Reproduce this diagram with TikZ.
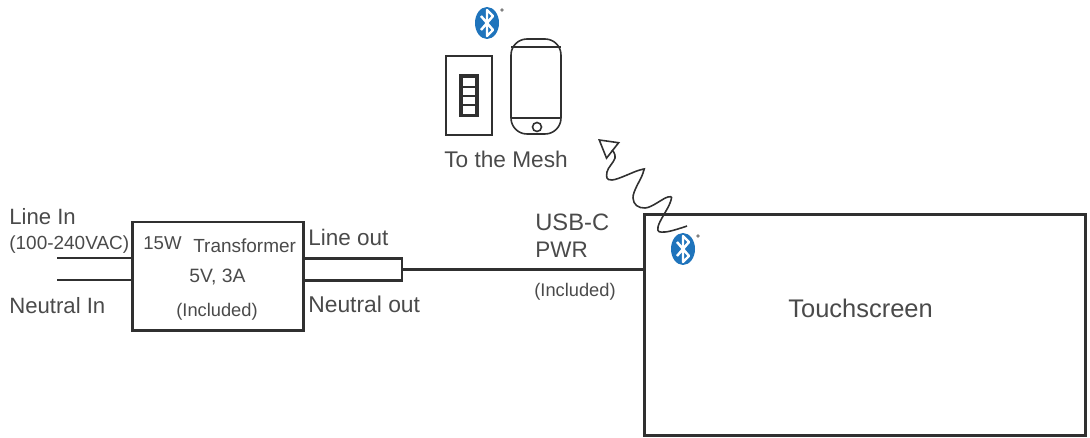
\documentclass[tikz,border=0pt]{standalone}
\usepackage{fontspec}
\setmainfont{Liberation Sans}
\usetikzlibrary{arrows.meta}

\definecolor{btblue}{HTML}{1F74BC}
\definecolor{labgray}{HTML}{4A4A4A}
\definecolor{wiregray}{HTML}{303030}

\tikzset{
  lab/.style={anchor=base west, inner sep=0pt, text=labgray},
  box/.style={draw=wiregray, line width=1.7pt, inner sep=0pt},
  wire/.style={draw=wiregray, line width=1.2pt},
  thin line/.style={draw=wiregray, line width=0.9pt},
  btlogo/.pic={
    \fill [btblue] (0,0) ellipse (12 and 16);
    \draw [white, line width=1.4pt, line join=round]
      (-6,-7) -- (6,7) -- (0,13) -- (0,-13) -- (6,-7) -- (-6,7);
    \fill [gray] (15,-13) circle (1.8);
  }
}
\newcommand{\labsize}[1]{\fontsize{#1}{#1}\selectfont}

\begin{document}
\begin{tikzpicture}[x=0.02cm, y=-0.02cm, >=latex]
\useasboundingbox (0,0) rectangle (1090,438);

% Transformer, plug and touchscreen boxes
\node [box, minimum width=3.44cm, minimum height=2.18cm] (xfmr) at (218,276.5) {};
\node [wire, draw, inner sep=0pt, minimum width=1.96cm, minimum height=0.44cm] (plug) at (353,269.5) {};
\node [box, minimum width=8.84cm, minimum height=4.44cm] (screen) at (865,325) {};

% Mains wires and the USB cable
\coordinate (linein) at (57,258);
\coordinate (neutralin) at (57,280);
\draw [wire] (linein) -- (linein -| xfmr.west);
\draw [wire] (neutralin) -- (neutralin -| xfmr.west);
\draw [wire] (plug.east) -- (plug.east -| screen.west);

% Labels on the left
\node [lab, font=\labsize{12.6}] (linelab) at (9,225) {Line In};
\node [lab, font=\labsize{10.8}] (rangelab) at (9,250) {(100-240VAC)};
\node [lab, font=\labsize{12.6}] (neutrallab) at (9,314) {Neutral In};
\node [lab, font=\labsize{10.6}] (wattlab) at (143,250) {15W};
\node [lab, font=\labsize{10.8}] (xfmrlab) at (193,253) {Transformer};
\node [lab, font=\labsize{11}] (ratelab) at (189,283) {5V, 3A};
\node [lab, font=\labsize{10.4}] (inclab) at (176,317) {(Included)};
\node [lab, font=\labsize{12.8}] (lineoutlab) at (308,246) {Line out};
\node [lab, font=\labsize{13}] (neutraloutlab) at (308,313) {Neutral out};

% Labels on the cable and the touchscreen
\node [lab, font=\labsize{13.5}] (usblab) at (535,231) {USB-C};
\node [lab, font=\labsize{12.8}] (pwrlab) at (535,258) {PWR};
\node [lab, font=\labsize{10.4}] (cablelab) at (534,297) {(Included)};
\node [lab, font=\labsize{14.5}] (screenlab) at (788,318) {Touchscreen};
\node [lab, font=\labsize{12.9}] (meshlab) at (444,168) {To the Mesh};

% Wall switch with its four rockers
\node [thin line, draw, inner sep=0pt, minimum width=0.92cm, minimum height=1.58cm] (plate) at (469,95.5) {};
\draw [wiregray, line width=1.3pt] (460,75) rectangle (478,116);
\foreach \y in {77,87,96,105} {
  \draw [wiregray, line width=0.6pt] (462,\y) rectangle (476,\y + 9.5);
}

% Phone
\draw [thin line, rounded corners=0.32cm] (511,39) rectangle (561,134);
\draw [thin line] (511,47) -- (561,47);
\draw [thin line] (511,118) -- (561,118);
\draw [thin line] (537,127) circle (4.5);

% Bluetooth marks
\pic at (487,23) {btlogo};
\pic at (683,249) {btlogo};

% The wavy radio link
\coordinate (waveend) at (687,226);
\coordinate (wavetip) at (598,139);
\draw [draw=wiregray, line width=0.9pt, -{Triangle[open, length=11pt, width=12.5pt]}]
  plot [smooth, tension=0.7] coordinates {(waveend) (665,232) (658,227) (670,203) (668,197) (645,208) (633,198) (643,173) (640,170) (612,180) (607,172) (615,158) (612,150)} -- (wavetip);
\end{tikzpicture}
\end{document}
